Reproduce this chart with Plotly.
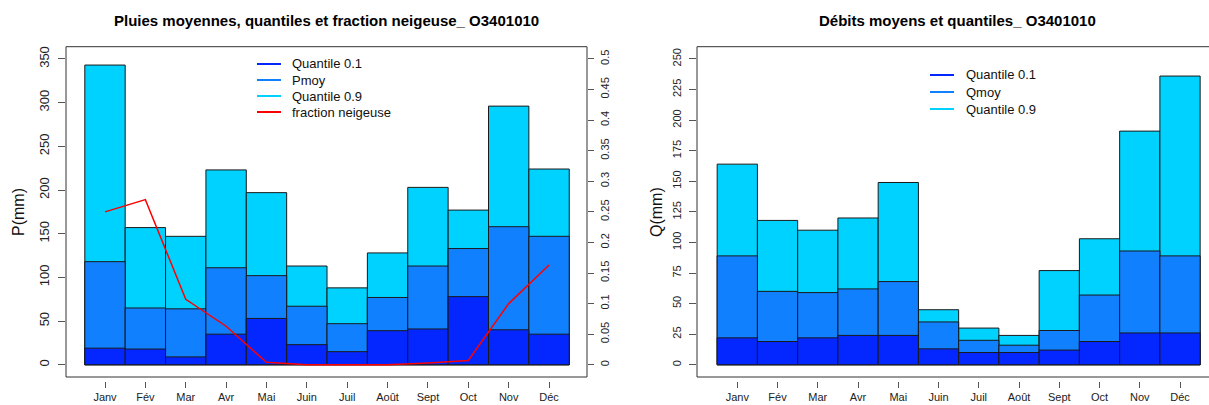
import plotly.graph_objects as go

months = ["Janv", "Fév", "Mar", "Avr", "Mai", "Juin", "Juil", "Août", "Sept", "Oct", "Nov", "Déc"]
xpos = list(range(1, 13))

# Rainfall (mm)
p_q09 = [343, 157, 147, 223, 197, 113, 88, 128, 203, 177, 296, 224]
p_moy = [118, 65, 64, 111, 102, 67, 47, 77, 113, 133, 158, 147]
p_q01 = [19, 18, 9, 35, 53, 23, 15, 39, 41, 78, 40, 35]
frac_neige = [0.25, 0.27, 0.107, 0.063, 0.004, 0.0, 0.0, 0.0, 0.003, 0.007, 0.1, 0.163]

# Discharge (mm)
q_q09 = [164, 118, 110, 120, 149, 45, 30, 24, 77, 103, 191, 236]
q_moy = [89, 60, 59, 62, 68, 35, 20, 16, 28, 57, 93, 89]
q_q01 = [22, 19, 22, 24, 24, 13, 10, 10, 12, 19, 26, 26]

legend_left = ["Quantile 0.1", "Pmoy", "Quantile 0.9", "fraction neigeuse"]
legend_right = ["Quantile 0.1", "Qmoy", "Quantile 0.9"]

C01 = "#0527FF"
CMOY = "#1180FF"
C09 = "#00D2FF"
CRED = "#FF0000"
EDGE = "#1a1a1a"
FONT = "Liberation Sans, Arial, sans-serif"

W, H = 1209, 405
def px(x):
    return x / W
def py(y):
    return 1 - y / H

fig = go.Figure()

def bars(vals, color, xa, ya):
    fig.add_trace(go.Bar(x=xpos, y=vals, width=1.0, marker=dict(color=color, line=dict(color=EDGE, width=1)),
                         opacity=1, showlegend=False, xaxis=xa, yaxis=ya))

bars(p_q09, C09, "x", "y")
bars(p_moy, CMOY, "x", "y")
bars(p_q01, C01, "x", "y")
fig.add_trace(go.Scatter(x=xpos, y=frac_neige, mode="lines", line=dict(color=CRED, width=1.5),
                         showlegend=False, xaxis="x", yaxis="y3"))

bars(q_q09, C09, "x2", "y2")
bars(q_moy, CMOY, "x2", "y2")
bars(q_q01, C01, "x2", "y2")

ydom = [py(377), py(46.7)]
xpos_axis = py(381)

common_x = dict(tickvals=xpos, ticktext=months, ticks="outside", ticklen=6, tickcolor="#555",
                showline=False, showgrid=False, zeroline=False, anchor="free", position=xpos_axis,
                ticklabelstandoff=0,
                tickfont=dict(family=FONT, size=11, color="#222"))
common_y = dict(ticks="outside", tickcolor="#555", showline=False, showgrid=False, zeroline=False,
                tickangle=-90)

shapes = [
    dict(type="rect", xref="paper", yref="paper", x0=px(66), x1=px(587), y0=py(377), y1=py(46.7),
         line=dict(color="#333", width=1), fillcolor="rgba(0,0,0,0)", layer="above"),
    dict(type="rect", xref="paper", yref="paper", x0=px(697), x1=px(1225), y0=py(377), y1=py(46.7),
         line=dict(color="#333", width=1), fillcolor="rgba(0,0,0,0)", layer="above"),
]
annotations = [
    dict(text="<b>Pluies moyennes, quantiles et fraction neigeuse_ O3401010</b>", x=px(326), y=py(20)),
    dict(text="<b>Débits moyens et quantiles_ O3401010</b>", x=px(957), y=py(20)),
]
for a in annotations:
    a.update(xref="paper", yref="paper", showarrow=False, xanchor="center", yanchor="middle",
             font=dict(family=FONT, size=15, color="#000"))
for txt, x in [("P(mm)", 18), ("Q(mm)", 656)]:
    annotations.append(dict(text=txt, x=px(x), y=py(212), xref="paper", yref="paper", showarrow=False,
                            textangle=-90, xanchor="center", yanchor="middle",
                            font=dict(family=FONT, size=16, color="#111")))

# manual legends (R-style short lines)
def add_legend(names, colors, x_line0, x_line1, x_text, rows):
    for name, col, yy in zip(names, colors, rows):
        shapes.append(dict(type="line", xref="paper", yref="paper", x0=px(x_line0), x1=px(x_line1),
                           y0=py(yy), y1=py(yy), line=dict(color=col, width=2)))
        annotations.append(dict(text=name, x=px(x_text), y=py(yy), xref="paper", yref="paper",
                                showarrow=False, xanchor="left", yanchor="middle",
                                font=dict(family=FONT, size=13, color="#111")))

add_legend(legend_left, [C01, CMOY, C09, CRED], 257, 281, 290, [64, 80, 96, 112])
add_legend(legend_right, [C01, CMOY, C09], 930, 954, 964, [75, 92, 109])

fig.update_layout(
    width=W, height=H,
    margin=dict(l=0, r=0, t=0, b=0),
    paper_bgcolor="white", plot_bgcolor="white",
    barmode="overlay",
    showlegend=False,
    hovermode=False,
    font=dict(family=FONT, color="#111"),
    xaxis=dict(domain=[px(66), px(587)], range=[0.034, 12.94], **common_x),
    xaxis2=dict(domain=[px(697), 1.0], range=[-0.001, 12.72], **common_x),
    yaxis=dict(domain=ydom, range=[-14, 364], tickvals=list(range(0, 351, 50)), ticklen=7,
               tickfont=dict(family=FONT, size=13, color="#222"), anchor="x", ticklabelstandoff=4, **common_y),
    yaxis3=dict(domain=ydom, range=[-0.02, 0.52], overlaying="y", side="right", anchor="x",
                tickvals=[i * 0.05 for i in range(11)],
                ticktext=["0", "0.05", "0.1", "0.15", "0.2", "0.25", "0.3", "0.35", "0.4", "0.45", "0.5"],
                ticklen=6, tickfont=dict(family=FONT, size=11, color="#222"), ticklabelstandoff=2, **common_y),
    yaxis2=dict(domain=ydom, range=[-10, 260], tickvals=list(range(0, 251, 25)), ticklen=7, anchor="x2",
                tickfont=dict(family=FONT, size=11, color="#222"), ticklabelstandoff=4, **common_y),
    shapes=shapes,
    annotations=annotations,
)

fig.write_html("out.html", config={"displayModeBar": False},
               post_script="document.body.style.margin='0';")
